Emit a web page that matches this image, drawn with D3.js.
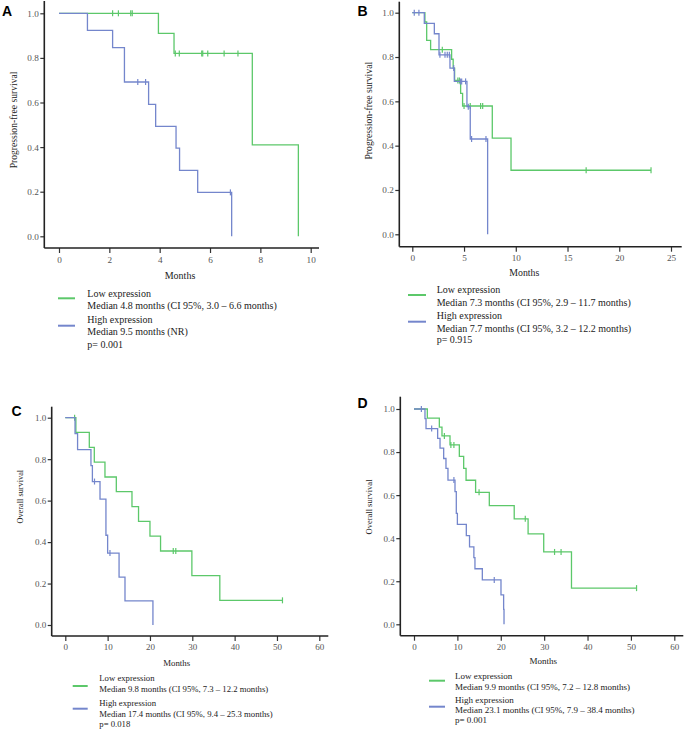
<!DOCTYPE html>
<html><head><meta charset="utf-8">
<script src="https://cdn.jsdelivr.net/npm/d3@7/dist/d3.min.js"></script>
<style>body{margin:0;background:#fff}svg{display:block}</style>
</head><body>
<svg id="c" width="685" height="729"></svg>
<script>
// ---------- DATA ----------
const panelLetters = ["A","B","C","D"];
const yLabels = ["Progression-free survival","Progression-free survival","Overall survival","Overall survival"];
const xMaxima = [10, 25, 60, 60];
const xTicksA = [0,2,4,6,8,10];
const xTicksB = [0,5,10,15,20,25];
const xTicksCD = [0,10,20,30,40,50,60];
const yTicks = [0,0.2,0.4,0.6,0.8,1.0];

// Panel A
const aLowT = [0,3.95,4.57,7.68,9.51];
const aLowS = [1,0.91,0.82,0.41,0];
const aLowC = [2.13,2.36,2.85,2.91,4.62,4.78,5.67,5.71,5.91,6.56,7.11];
const aHighT = [0,1.13,2.13,2.6,3.56,3.84,4.65,4.79,5.51,6.86];
const aHighS = [1,0.923,0.846,0.692,0.592,0.493,0.395,0.296,0.197,0];
const aHighC = [3.13,3.44,6.81];
// Panel B
const bLowT = [0,1.22,1.39,1.77,3.8,3.95,4.09,4.67,4.86,7.73,9.54];
const bLowS = [1,0.958,0.875,0.833,0.79,0.75,0.694,0.636,0.579,0.434,0.289];
const bLowC = [2.9,4.4,4.55,5.0,5.6,6.6,6.8,16.8,23.07];
const bHighT = [0,1.16,2.13,2.58,3.64,4.06,5.28,5.6,7.28];
const bHighS = [1,0.952,0.905,0.81,0.75,0.69,0.576,0.43,0];
const bHighC = [0.19,0.64,2.67,3.16,3.38,3.58,4.0,4.64,4.77,5.15,5.41,5.73,7.12];
// Panel C
const cLowT = [0,2.5,5.67,6.85,9.37,12.05,15.75,17.3,20,22.5,29.9,36.5];
const cLowS = [1,0.929,0.857,0.786,0.714,0.643,0.571,0.5,0.429,0.357,0.238,0.119];
const cLowC = [2.2,25.5,26.1,51.3];
const cHighT = [0,2.3,2.9,6.06,6.4,8.2,9.6,10.0,12.7,14.1,20.7];
const cHighS = [1,0.923,0.846,0.769,0.692,0.607,0.433,0.347,0.231,0.116,0];
const cHighC = [6.9,10.55];
// Panel D
const dLowT = [0,3.07,5.84,6.45,8.3,10.45,11.45,12,14.2,17.36,23.1,26.3,29.9,36.3];
const dLowS = [1,0.958,0.916,0.875,0.833,0.78,0.724,0.669,0.613,0.551,0.49,0.42,0.336,0.168];
const dLowC = [7.0,8.5,9.2,15.0,25.65,32.4,33.9,51.3];
const dHighT = [0,2.53,2.77,5.45,6.0,6.84,7.37,7.83,9.45,9.75,10.0,12.06,12.8,13.8,14.05,15.75,20.05,20.66,20.75];
const dHighS = [1,0.955,0.909,0.864,0.818,0.77,0.724,0.67,0.616,0.515,0.464,0.412,0.36,0.31,0.258,0.206,0.137,0.069,0];
const dHighC = [1.7,4.07,9.2,18.5];

const legendA = ["Low expression","Median 4.8 months (CI 95%, 3.0 – 6.6 months)","High expression","Median 9.5 months (NR)","p= 0.001"];
const legendB = ["Low expression","Median 7.3 months (CI 95%, 2.9 – 11.7 months)","High expression","Median 7.7 months (CI 95%, 3.2 – 12.2 months)","p= 0.915"];
const legendC = ["Low expression","Median 9.8 months (CI 95%, 7.3 – 12.2 months)","High expression","Median 17.4 months (CI 95%, 9.4 – 25.3 months)","p= 0.018"];
const legendD = ["Low expression","Median 9.9 months (CI 95%, 7.2 – 12.8 months)","High expression","Median 23.1 months (CI 95%, 7.9 – 38.4 months)","p= 0.001"];

// ---------- LAYOUT ----------
const GREEN = "#5cc86a", BLUE = "#7486cc";
const SERIF = "'Liberation Serif','Times New Roman',serif";
const panels = [
  {xr:[59,310.7], yr:[236.3,13.3], yAxX:44.3, xAxY:248, xEnd:319, yTop:1, ticks:xTicksA,
   low:[aLowT,aLowS,aLowC], high:[aHighT,aHighS,aHighC], legend:legendA,
   letter:[2,15.5], ylab:[14,120,9.6], months:[180,279,10], tickFs:9.2,
   lg:{x:87.3, ys:[294,306,319.3,331.7,344.3], lx:[58,75], gy:298.3, by:325.7, fs:10}},
  {xr:[412.3,671], yr:[234.3,12.7], yAxX:399.3, xAxY:246.7, xEnd:681.7, yTop:1.7, ticks:xTicksB,
   low:[bLowT,bLowS,bLowC], high:[bHighT,bHighS,bHighC], legend:legendB,
   letter:[357.5,15.5], ylab:[368.3,110.7,9.7], months:[524.3,276,9.8], tickFs:9.2,
   lg:{x:436.7, ys:[290,302.3,316,328.3,340], lx:[408,426], gy:295, by:321.7, fs:10}},
  {xr:[65.3,319.3], yr:[625,417.7], yAxX:51.7, xAxY:636, xEnd:328.3, yTop:406.7, ticks:xTicksCD,
   low:[cLowT,cLowS,cLowC], high:[cHighT,cHighS,cHighC], legend:legendC,
   letter:[11.5,415.5], ylab:[20,496.7,8.3], months:[176.7,665.5,8.8], tickFs:9,
   lg:{x:99.3, ys:[677.7,689.3,702.7,714,724.3], lx:[72.7,87.7], gy:686, by:708.7, fs:8.7}},
  {xr:[414,674.3], yr:[624.3,409], yAxX:400.3, xAxY:635.7, xEnd:683.3, yTop:396.7, ticks:xTicksCD,
   low:[dLowT,dLowS,dLowC], high:[dHighT,dHighS,dHighC], legend:legendD,
   letter:[357.5,407.5], ylab:[369.3,507,8.5], months:[543.3,663.5,9], tickFs:9,
   lg:{x:455, ys:[675.7,686.7,699.7,710.3,720], lx:[429,445], gy:680.7, by:706.7, fs:9}}
];

const svg = d3.select("#c");

panels.forEach((p, i) => {
  const g = svg.append("g");
  const x = d3.scaleLinear().domain([0, xMaxima[i]]).range(p.xr);
  const y = d3.scaleLinear().domain([0, 1]).range(p.yr);

  // axes
  const xa = g.append("g").attr("transform", `translate(0,${p.xAxY})`)
    .call(d3.axisBottom(x).tickValues(p.ticks).tickSize(5).tickSizeOuter(0).tickFormat(d3.format("d")));
  const ya = g.append("g").attr("transform", `translate(${p.yAxX},0)`)
    .call(d3.axisLeft(y).tickValues(yTicks).tickSize(4).tickSizeOuter(0).tickFormat(d3.format(".1f")));
  [xa, ya].forEach(a => {
    a.select(".domain").remove();
    a.selectAll(".tick line").attr("stroke", "#333").attr("stroke-width", 1.2);
    a.selectAll(".tick text").attr("fill", "#555").style("font-family", SERIF).style("font-size", p.tickFs + "px");
  });
  xa.selectAll(".tick text").attr("dy", "0.71em").attr("y", 8);
  ya.selectAll(".tick text").attr("x", -5.5);
  g.append("line").attr("x1", p.yAxX).attr("x2", p.xEnd).attr("y1", p.xAxY).attr("y2", p.xAxY)
    .attr("stroke", "#222").attr("stroke-width", 1.6);
  g.append("line").attr("x1", p.yAxX).attr("x2", p.yAxX).attr("y1", p.yTop).attr("y2", p.xAxY)
    .attr("stroke", "#222").attr("stroke-width", 1.6);

  // curves
  const line = d3.line().x(d => x(d[0])).y(d => y(d[1])).curve(d3.curveStepAfter);
  [[p.low, GREEN], [p.high, BLUE]].forEach(([grp, col]) => {
    const [T, S, C] = grp;
    const pts = T.map((t, k) => [t, S[k]]);
    const end = Math.max(T[T.length - 1], d3.max(C));
    pts.push([end, S[S.length - 1]]);
    g.append("path").attr("d", line(pts)).attr("fill", "none").attr("stroke", col).attr("stroke-width", 1.3);
    C.forEach(c => {
      let k = 0;
      for (let j = 0; j < T.length; j++) if (T[j] <= c) k = j;
      g.append("line").attr("x1", x(c)).attr("x2", x(c)).attr("y1", y(S[k]) - 3).attr("y2", y(S[k]) + 3)
        .attr("stroke", col).attr("stroke-width", 1.2);
    });
  });

  // labels
  g.append("text").attr("x", p.letter[0]).attr("y", p.letter[1]).text(panelLetters[i])
    .style("font-family", "'Liberation Sans',Arial,sans-serif").style("font-weight", "bold").style("font-size", "14px");
  g.append("text").attr("transform", `translate(${p.ylab[0]},${p.ylab[1]}) rotate(-90)`)
    .attr("text-anchor", "middle").attr("dy", "0.33em").text(yLabels[i])
    .style("font-family", SERIF).style("font-size", p.ylab[2] + "px").attr("fill", "#222");
  g.append("text").attr("x", p.months[0]).attr("y", p.months[1]).attr("text-anchor", "middle").text("Months")
    .style("font-family", SERIF).style("font-size", p.months[2] + "px").attr("fill", "#222");

  // legend
  const lg = p.lg;
  g.append("line").attr("x1", lg.lx[0]).attr("x2", lg.lx[1]).attr("y1", lg.gy).attr("y2", lg.gy)
    .attr("stroke", GREEN).attr("stroke-width", 2);
  g.append("line").attr("x1", lg.lx[0]).attr("x2", lg.lx[1]).attr("y1", lg.by).attr("y2", lg.by)
    .attr("stroke", BLUE).attr("stroke-width", 2);
  p.legend.forEach((t, k) => {
    g.append("text").attr("x", lg.x).attr("y", lg.ys[k]).attr("dy", "0.33em").text(t)
      .style("font-family", SERIF).style("font-size", lg.fs + "px").attr("fill", "#222");
  });
});
</script>
</body></html>
